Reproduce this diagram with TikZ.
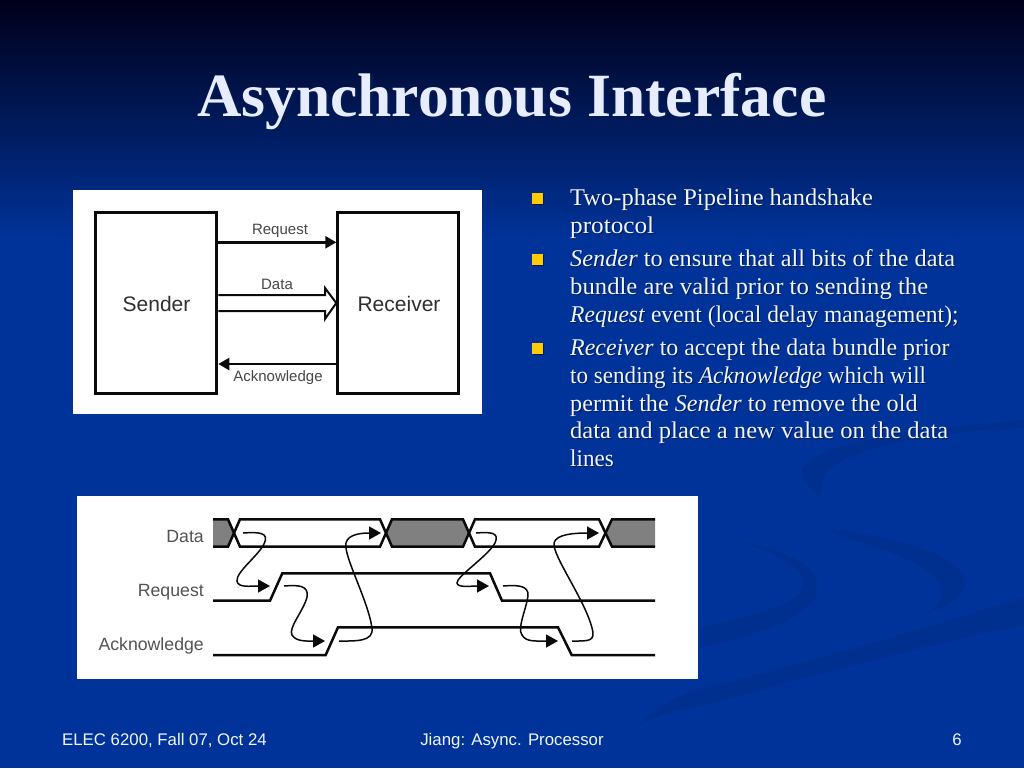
\documentclass[tikz,border=0pt]{standalone}
\usepackage{graphicx}
\usepackage{fontspec}
\setmainfont{Liberation Serif}
\newfontfamily\foot{Liberation Sans}
\usetikzlibrary{arrows.meta}
\definecolor{bgtop}{HTML}{00001A}
\definecolor{bgblue}{HTML}{003399}
\definecolor{swoosh}{HTML}{00308F}
\definecolor{bullet}{HTML}{FFCC00}
\definecolor{shadow}{HTML}{001A55}
\definecolor{txt}{HTML}{F2F6FF}
\definecolor{titletxt}{HTML}{E8ECFF}
\definecolor{ink}{HTML}{0A0A0A}
\definecolor{busgrey}{HTML}{808080}
\tikzset{
  bodyline/.style={anchor=base west,inner sep=0,text=txt,font=\fontsize{24}{27}\selectfont},
  bodyshadow/.style={anchor=base west,inner sep=0,text=shadow,font=\fontsize{24}{27}\selectfont},
  bulletbox/.style={fill=bullet,minimum size=11pt,inner sep=0},
  footer/.style={anchor=base,inner sep=0,text=txt,font=\foot\fontsize{16.8}{18}\selectfont},
  panel/.style={fill=white,draw=none},
  block/.style={draw=ink,line width=3pt,fill=white,inner sep=0},
  blocklab/.style={text=ink!85,font=\foot\fontsize{21}{23}\selectfont,inner sep=0},
  sig/.style={text=ink!75,font=\foot\fontsize{15}{17}\selectfont,inner sep=0},
  tlab/.style={text=ink!70,font=\foot\fontsize{17.7}{19}\selectfont,inner sep=0,anchor=base east},
  wire/.style={draw=ink,line width=2.5pt,line join=miter},
  causal/.style={draw=ink,line width=1.5pt,-{Triangle[length=12pt,width=13pt]}},
  head/.style={-{Triangle[length=11pt,width=12pt]},draw=ink,line width=2.5pt}
}
\begin{document}
\begin{tikzpicture}[x=1pt,y=-1pt]
\useasboundingbox (0,0) rectangle (1024,768);
\shade[top color=bgtop,bottom color=bgblue] (0,0) rectangle (1024,240);
\fill[bgblue] (0,239.5) rectangle (1024,768);
% swooshes
\fill[swoosh] (1024,597) .. controls (920,630) and (800,665) .. (700,689) .. controls (670,697) and (650,712) .. (640,725) .. controls (665,712) and (685,708) .. (700,706) .. controls (800,680) and (920,645) .. (1024,625) -- cycle;
\fill[swoosh] (700,628) .. controls (750,615) and (805,605) .. (803,582) .. controls (800,560) and (750,542) .. (703,533) .. controls (770,545) and (818,560) .. (818,587) .. controls (818,615) and (760,635) .. (700,647) -- cycle;
\fill[swoosh] (823,529) .. controls (890,535) and (968,555) .. (965,585) .. controls (962,600) and (945,608) .. (927,613) .. controls (942,603) and (945,592) .. (938,582) .. controls (920,555) and (860,545) .. (823,529) -- cycle;
\fill[swoosh] (820,496) .. controls (808,488) and (800,480) .. (802,470) .. controls (810,442) and (930,428) .. (1024,420) -- (1024,428) .. controls (930,432) and (850,448) .. (827,472) .. controls (822,480) and (822,488) .. (820,496) -- cycle;
% title
\fill[shadow] (0,0) rectangle (0,0);
\node[anchor=base west,inner sep=0,text=shadow,font=\bfseries\fontsize{61.5}{65}\selectfont] at (199.5,118.5) {Asynchronous Interface};
\node (title) [anchor=base west,inner sep=0,text=titletxt,font=\bfseries\fontsize{61.5}{65}\selectfont] at (197,116) {Asynchronous Interface};
% body text
\foreach \y/\s/\t in {
 205/1.02/{Two-phase Pipeline handshake},
 233/1.05/{protocol},
 266/1.013/{\textit{Sender} to ensure that all bits of the data},
 294/1.029/{bundle are valid prior to sending the},
 322/0.98/{\textit{Request} event (local delay management);},
 355/0.995/{\textit{Receiver} to accept the data bundle prior},
 383/0.962/{to sending its \textit{Acknowledge} which will},
 411/1.006/{permit the \textit{Sender} to remove the old},
 438/1.024/{data and place a new value on the data},
 466/0.96/{lines}}{
 \node[bodyshadow] at (571,\y+1) {\scalebox{\s}[1]{\t}};
 \node[bodyline] at (570,\y) {\scalebox{\s}[1]{\t}};
}
\fill[shadow] (533.2,194) rectangle (544.2,205);
\node[bulletbox] (b1) at (537.8,198.5) {};
\fill[shadow] (533.2,255) rectangle (544.2,266);
\node[bulletbox] (b2) at (537.8,259.5) {};
\fill[shadow] (533.2,344) rectangle (544.2,355);
\node[bulletbox] (b3) at (537.8,348.5) {};
% block diagram
\fill[panel] (73,190) rectangle (482,414);
\node[block,minimum width=121pt,minimum height=181.5pt] (sender) at (156.3,303.2) {};
\node[block,minimum width=121pt,minimum height=181.5pt] (receiver) at (398.3,303.2) {};
\node[blocklab] (sl) at (156.5,304) {Sender};
\node[blocklab] (rl) at (399,304) {Receiver};
\coordinate (reqa) at (sender.east |- 0,242.3);
\coordinate (reqb) at (receiver.west |- 0,242.3);
\coordinate (acka) at (receiver.west |- 0,364);
\coordinate (ackb) at (sender.east |- 0,364);
\draw[head] (reqa) -- (reqb);
\draw[head] (acka) -- (ackb);
\coordinate (d1) at (sender.east |- 0,295);
\coordinate (d2) at (sender.east |- 0,311);
\coordinate (dtip) at (receiver.west |- 0,303);
\draw[draw=ink,line width=2pt,line join=miter] (d1) -- (325,295) -- (325,288) -- (dtip) -- (325,319) -- (325,311) -- (d2);
\node[sig] (rq) at (280,231) {Request};
\node[sig] (da) at (277,284) {Data};
\node[sig] (ak) at (278,378) {Acknowledge};
% timing panel
\fill[panel] (77,496) rectangle (698,679);
\node[tlab] (ld) at (204,542) {Data};
\node[tlab] (lr) at (204,596) {Request};
\node[tlab] (la) at (204,650) {Acknowledge};
% grey bus
\fill[busgrey] (213,519) -- (228,519) -- (234,533) -- (228,546.5) -- (213,546.5) -- cycle;
\fill[busgrey] (392,519) -- (463,519) -- (469.5,533) -- (463,546.5) -- (392,546.5) -- (386,533) -- cycle;
\fill[busgrey] (612,519) -- (655,519) -- (655,546.5) -- (612,546.5) -- (605.5,533) -- cycle;
% data wires
\draw[wire] (213,519.3) -- (228,519.3) -- (240,546.7) -- (380,546.7) -- (392,519.3) -- (463,519.3) -- (475,546.7) -- (599,546.7) -- (612,519.3) -- (655,519.3);
\draw[wire] (213,546.7) -- (228,546.7) -- (240,519.3) -- (380,519.3) -- (392,546.7) -- (463,546.7) -- (475,519.3) -- (599,519.3) -- (612,546.7) -- (655,546.7);
% request, ack
\draw[wire] (213,600.7) -- (270,600.7) -- (282.3,573.3) -- (490,573.3) -- (502,600.7) -- (655,600.7);
\draw[wire] (213,655) -- (325.7,655) -- (338,627.3) -- (558,627.3) -- (571.7,655) -- (655,655);
% causal arrows
\draw[causal] (243,533) .. controls (258,532) and (270,532) .. (264,544) .. controls (258,556) and (236,572) .. (237,581) .. controls (238,588) and (250,586) .. (270,586);
\draw[causal] (284,586) .. controls (298,585) and (309,585) .. (307,597) .. controls (304,610) and (288,628) .. (292,635) .. controls (296,642) and (308,641) .. (325,641);
\draw[causal] (339,641) .. controls (355,641) and (374,642) .. (372,628) .. controls (368,600) and (343,555) .. (346,543) .. controls (348,534) and (362,533) .. (381,533);
\draw[causal] (476,533) .. controls (490,532) and (500,532) .. (495,543) .. controls (488,556) and (456,577) .. (457,583) .. controls (458,588) and (470,586) .. (489,586);
\draw[causal] (503,586) .. controls (517,585) and (529,585) .. (528,596) .. controls (526,610) and (517,628) .. (522,635) .. controls (526,642) and (535,641) .. (558,641);
\draw[causal] (572,641) .. controls (588,641) and (596,642) .. (592,628) .. controls (585,600) and (552,555) .. (554,543) .. controls (556,534) and (575,533) .. (599,533);
% footer
\node[footer,anchor=base west] (f1) at (62,745) {ELEC 6200, Fall 07, Oct 24};
\node[footer] (f2) at (512,745) {Jiang: Async. Processor};
\node[footer] (f3) at (957,745) {6};
\end{tikzpicture}
\end{document}
